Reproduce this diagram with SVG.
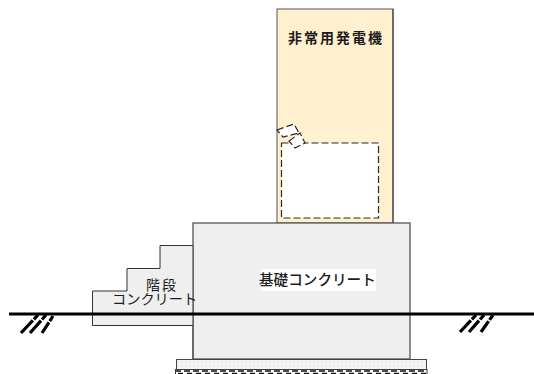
<svg xmlns="http://www.w3.org/2000/svg" width="534" height="374" viewBox="0 0 534 374">
<defs>
<style>
.jp{font-family:"Noto Sans CJK JP","Liberation Sans",sans-serif;fill:#1c1c1c}
.dash{fill:#fff;stroke:#2a2a2a;stroke-width:1.2;stroke-dasharray:7 3}
.h{stroke:#000;stroke-width:3.200;fill:none;stroke-dasharray:6 1.500 20}
</style>
<pattern id="dots" width="4" height="4" patternUnits="userSpaceOnUse"><rect width="4" height="4" fill="#f7f7f7"/><circle cx="2" cy="2" r="1.3" fill="none" stroke="#e2e2e2" stroke-width=".5"/></pattern>
<pattern id="gravel" x="175" y="370" width="9" height="5" patternUnits="userSpaceOnUse"><rect width="9" height="5" fill="#fff"/><path d="M0 1H6M3 3.500H8" stroke="#111" stroke-width="1.400"/></pattern>
</defs>
<g id="generator">
<rect x="277" y="9" width="116" height="214" fill="#fff0cf" stroke="#555" stroke-width="1"/>
<path d="M393 9V223" stroke="#333" stroke-width="1"/>
<text class="jp" x="288" y="43" font-size="14" font-weight="700" letter-spacing="2">非常用発電機</text>
</g>
<g id="opening">
<rect x="281.500" y="143" width="97" height="75" class="dash"/>
<polygon points="277,130 294,124 299,133 283,137" class="dash"/>
<polygon points="289,141 300,133 305,143 295,148" class="dash"/>
</g>
<g id="foundation">
<rect x="193" y="223" width="217" height="136" fill="#efefef" stroke="#555" stroke-width="1.3"/>
<rect x="261" y="269" width="115" height="22" fill="#fff"/>
<text class="jp" x="259" y="285" font-size="14.600" font-weight="500">基礎コンクリート</text>
</g>
<g id="stairs">
<path d="M92.500 291H127V268.500H160V245.500H193V325.500H92.500Z" fill="#efefef"/>
<path d="M193 245.500H160V268.500H127V291H92.500V325.500H193" fill="none" stroke="#333" stroke-width="1"/>
<path d="M193 245V359" stroke="#555" stroke-width="1.300"/>
<text class="jp" x="146" y="290" font-size="14" letter-spacing="2">階段</text>
<text class="jp" x="112" y="303.500" font-size="14.200">コンクリート</text>
</g>
<g id="footing">
<rect x="176.500" y="359.500" width="250" height="10" fill="url(#dots)" stroke="#444" stroke-width="1"/>
<rect x="175" y="370" width="252" height="4" fill="url(#gravel)"/>
<path d="M175.500 369V374M427 369V374" stroke="#333" stroke-width="1"/>
</g>
<g id="ground">
<path d="M9 314H534" stroke="#000" stroke-width="3.200" fill="none"/>
<path class="h" d="M38 315L21 333M46 315L30 333M53 316L42 333"/>
<path class="h" d="M476 315L460 332M484 315L469 332M493 315L481 332"/>
</g>
</svg>
